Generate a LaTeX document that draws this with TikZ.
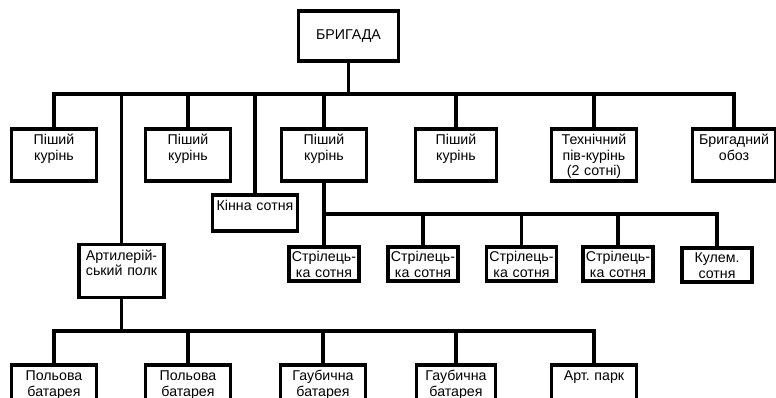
\documentclass[tikz,border=0pt]{standalone}
\usepackage{fontspec}
\setmainfont{Liberation Sans}

\tikzset{
  box/.style={draw, line width=3.4pt, align=center, inner xsep=1pt, inner ysep=3pt,
    text height=12.5pt, text depth=33.5pt, text width=83pt,
    font=\fontsize{14.2}{15.5}\selectfont},
  smallbox/.style={box, text height=11.5pt, text depth=16.5pt, text width=68pt},
  link/.style={line width=3.4pt}
}

\begin{document}
\begin{tikzpicture}[x=1pt,y=-1pt]

\useasboundingbox (0,0) rectangle (776,397);
\clip (0,0) rectangle (776,397);

% Бригада
\node[draw, line width=3.4pt, minimum width=100pt, minimum height=50pt,
  font=\fontsize{14.2}{15.5}\selectfont] (brig) at (348.5,36) {БРИГАДА};

\coordinate (bus1) at (0,94);
\coordinate (bus2) at (0,214);
\coordinate (bus3) at (0,331);

% Перший ряд
\node[box] (p1) at (54,155) {Піший\\курінь};
\node[box] (p2) at (188,155) {Піший\\курінь};
\node[box] (p3) at (324,155) {Піший\\курінь};
\node[box, text width=79pt] (p4) at (456,155) {Піший\\курінь};
\node[box] (tech) at (594,155) {Технічний\\пів-курінь\\(2 сотні)};
\node[box, text width=81pt] (oboz) at (734,155) {Бригадний\\обоз};

\node[box, text height=12pt, text depth=18pt] (kinna) at (255,213) {Кінна сотня};
\node[box, text depth=34.5pt] (art) at (121.5,271) {Артилерій-\\ський полк};

\draw[link] (brig.south) -- (brig.south |- bus1);
\draw[link] (p1.north) |- (oboz.north |- bus1) -- (oboz.north);
\foreach \n in {p2,p3,p4,tech,kinna,art}
{
    \draw[link] (\n.north) -- (\n.north |- bus1);
}

% Сотні
\node[smallbox] (s1) at (324,264) {Стрілець-\\ка сотня};
\node[smallbox] (s2) at (423,264) {Стрілець-\\ка сотня};
\node[smallbox] (s3) at (521.5,264) {Стрілець-\\ка сотня};
\node[smallbox] (s4) at (618,264) {Стрілець-\\ка сотня};
\node[smallbox] (kul) at (717,265) {Кулем.\\сотня};

\draw[link] (p3.south) -- (s1.north);
\draw[link] (s1.north |- bus2) -| (kul.north);
\foreach \n in {s2,s3,s4}
{
    \draw[link] (\n.north) -- (\n.north |- bus2);
}

% Батареї
\node[box] (b1) at (54,391) {Польова\\батарея};
\node[box] (b2) at (188,391) {Польова\\батарея};
\node[box] (g1) at (323,391) {Гаубична\\батарея};
\node[box, text width=77pt] (g2) at (456,391) {Гаубична\\батарея};
\node[box] (park) at (594,391) {Арт.\ парк};

\draw[link] (art.south) -- (art.south |- bus3);
\draw[link] (b1.north) |- (park.north |- bus3) -- (park.north);
\foreach \n in {b2,g1,g2}
{
    \draw[link] (\n.north) -- (\n.north |- bus3);
}

\end{tikzpicture}
\end{document}
